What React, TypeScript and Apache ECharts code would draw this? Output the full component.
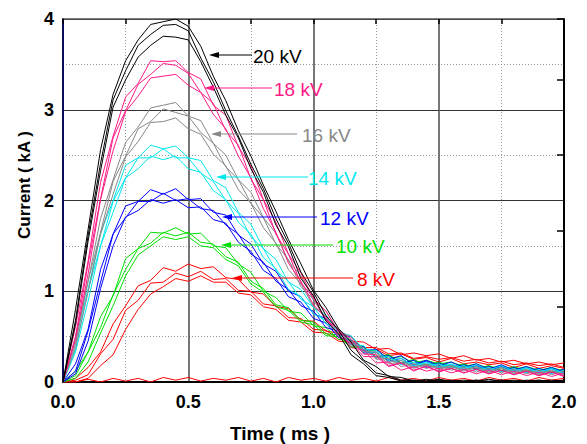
import React, { useEffect, useRef } from "react";
import * as echarts from "echarts";

// Time axis (ms)
const TIME = [0, 0.05, 0.1, 0.15, 0.2, 0.25, 0.3, 0.35, 0.4, 0.45, 0.5, 0.55, 0.6, 0.65, 0.7, 0.75, 0.8, 0.85, 0.9, 0.95, 1.0, 1.05, 1.1, 1.15, 1.2, 1.25, 1.3, 1.35, 1.4, 1.45, 1.5, 1.55, 1.6, 1.65, 1.7, 1.75, 1.8, 1.85, 1.9, 1.95, 2.0];

const X_TICKS = ["0.0", "0.5", "1.0", "1.5", "2.0"];
const Y_TICKS = ["0", "1", "2", "3", "4"];

// 8 kV (red)
const KV8_A = [0, 0.04, 0.16, 0.33, 0.64, 0.84, 1.06, 1.12, 1.26, 1.22, 1.3, 1.25, 1.27, 1.15, 1.13, 0.99, 0.97, 0.83, 0.81, 0.68, 0.67, 0.56, 0.54, 0.45, 0.44, 0.36, 0.37, 0.3, 0.32, 0.29, 0.31, 0.26, 0.29, 0.24, 0.26, 0.22, 0.24, 0.2, 0.22, 0.19, 0.21];
const KV8_B = [0, 0.02, 0.08, 0.31, 0.47, 0.79, 0.9, 1.09, 1.1, 1.2, 1.16, 1.22, 1.13, 1.14, 1.01, 1.0, 0.86, 0.84, 0.71, 0.7, 0.58, 0.57, 0.47, 0.46, 0.38, 0.38, 0.31, 0.32, 0.26, 0.28, 0.25, 0.27, 0.23, 0.25, 0.21, 0.23, 0.19, 0.21, 0.18, 0.2, 0.16];
const KV8_C = [0, 0.0, 0.04, 0.18, 0.3, 0.58, 0.8, 0.97, 1.05, 1.14, 1.11, 1.17, 1.1, 1.1, 0.98, 0.96, 0.83, 0.8, 0.68, 0.66, 0.55, 0.54, 0.45, 0.44, 0.36, 0.36, 0.29, 0.31, 0.25, 0.27, 0.22, 0.26, 0.2, 0.22, 0.19, 0.21, 0.16, 0.2, 0.15, 0.18, 0.15];
const KV8_FLAT = [0, 0.0, 0.03, 0.0, 0.04, 0.01, 0.04, 0.0, 0.05, 0.02, 0.05, 0.01, 0.04, 0.02, 0.05, 0.01, 0.04, 0.0, 0.05, 0.02, 0.04, 0.01, 0.05, 0.02, 0.04, 0.01, 0.05, 0.02, 0.04, 0.01, 0.05, 0.02, 0.04, 0.01, 0.05, 0.02, 0.04, 0.01, 0.05, 0.02, 0.04];

// 10 kV (green)
const KV10_A = [0, 0.12, 0.33, 0.72, 0.95, 1.36, 1.47, 1.65, 1.64, 1.7, 1.63, 1.64, 1.5, 1.48, 1.3, 1.21, 1.0, 0.93, 0.78, 0.76, 0.62, 0.6, 0.47, 0.46, 0.34, 0.35, 0.26, 0.28, 0.21, 0.24, 0.2, 0.22, 0.17, 0.2, 0.15, 0.18, 0.14, 0.17, 0.13, 0.16, 0.12];
const KV10_B = [0, 0.07, 0.33, 0.6, 0.96, 1.24, 1.47, 1.53, 1.65, 1.61, 1.65, 1.54, 1.52, 1.38, 1.32, 1.11, 1.03, 0.85, 0.82, 0.68, 0.66, 0.53, 0.52, 0.39, 0.39, 0.28, 0.3, 0.21, 0.25, 0.18, 0.22, 0.17, 0.2, 0.15, 0.18, 0.13, 0.17, 0.12, 0.15, 0.11, 0.14];
const KV10_C = [0, 0.04, 0.22, 0.54, 0.84, 1.17, 1.4, 1.5, 1.6, 1.57, 1.6, 1.5, 1.48, 1.35, 1.28, 1.08, 0.99, 0.83, 0.79, 0.66, 0.63, 0.51, 0.5, 0.38, 0.38, 0.27, 0.3, 0.21, 0.24, 0.19, 0.21, 0.15, 0.19, 0.14, 0.18, 0.12, 0.16, 0.11, 0.15, 0.1, 0.14];

// 12 kV (blue)
const KV12_A = [0, 0.2, 0.58, 1.24, 1.63, 1.94, 1.99, 2.12, 2.07, 2.13, 2.01, 2.02, 1.87, 1.84, 1.62, 1.52, 1.3, 1.22, 1.0, 0.94, 0.75, 0.7, 0.52, 0.5, 0.35, 0.36, 0.25, 0.29, 0.19, 0.24, 0.18, 0.22, 0.16, 0.2, 0.14, 0.19, 0.13, 0.17, 0.12, 0.16, 0.11];
const KV12_B = [0, 0.12, 0.56, 1.1, 1.63, 1.81, 1.99, 1.99, 2.08, 2.0, 2.02, 1.91, 1.89, 1.73, 1.63, 1.41, 1.32, 1.11, 1.02, 0.84, 0.78, 0.6, 0.56, 0.41, 0.39, 0.27, 0.29, 0.2, 0.24, 0.16, 0.21, 0.15, 0.19, 0.14, 0.17, 0.12, 0.16, 0.11, 0.15, 0.1, 0.14];
const KV12_C = [0, 0.09, 0.45, 1.03, 1.5, 1.82, 1.89, 2.01, 1.97, 2.01, 1.92, 1.93, 1.79, 1.75, 1.54, 1.44, 1.23, 1.14, 0.94, 0.88, 0.7, 0.65, 0.49, 0.46, 0.32, 0.33, 0.23, 0.26, 0.18, 0.23, 0.16, 0.19, 0.14, 0.18, 0.13, 0.17, 0.12, 0.16, 0.1, 0.15, 0.1];

// 14 kV (cyan)
const KV14_A = [0, 0.46, 1.02, 1.64, 2.0, 2.39, 2.47, 2.61, 2.57, 2.6, 2.47, 2.44, 2.22, 2.14, 1.87, 1.74, 1.47, 1.35, 1.1, 1.02, 0.82, 0.74, 0.55, 0.51, 0.36, 0.35, 0.24, 0.26, 0.18, 0.22, 0.17, 0.2, 0.15, 0.19, 0.13, 0.18, 0.12, 0.16, 0.11, 0.15, 0.1];
const KV14_B = [0, 0.36, 1.01, 1.5, 1.99, 2.25, 2.47, 2.47, 2.57, 2.47, 2.47, 2.3, 2.21, 2.0, 1.86, 1.6, 1.47, 1.23, 1.11, 0.91, 0.83, 0.64, 0.58, 0.42, 0.4, 0.27, 0.28, 0.19, 0.22, 0.17, 0.2, 0.15, 0.18, 0.13, 0.16, 0.11, 0.15, 0.1, 0.14, 0.09, 0.13];
const KV14_C = [0, 0.33, 0.89, 1.5, 1.87, 2.25, 2.35, 2.49, 2.45, 2.49, 2.35, 2.31, 2.11, 2.01, 1.76, 1.63, 1.37, 1.25, 1.02, 0.94, 0.75, 0.68, 0.51, 0.47, 0.33, 0.33, 0.22, 0.24, 0.17, 0.21, 0.16, 0.19, 0.14, 0.17, 0.12, 0.16, 0.11, 0.15, 0.1, 0.14, 0.09];

// 16 kV (gray)
const KV16_A = [0, 0.5, 1.11, 1.8, 2.23, 2.64, 2.81, 3.02, 3.05, 3.08, 2.93, 2.88, 2.63, 2.5, 2.23, 2.09, 1.81, 1.64, 1.33, 1.17, 0.9, 0.78, 0.56, 0.5, 0.34, 0.33, 0.22, 0.24, 0.16, 0.2, 0.15, 0.18, 0.13, 0.17, 0.11, 0.16, 0.1, 0.14, 0.09, 0.13, 0.08];
const KV16_B = [0, 0.42, 1.11, 1.65, 2.21, 2.49, 2.79, 2.87, 3.01, 2.97, 2.93, 2.75, 2.63, 2.37, 2.23, 1.97, 1.81, 1.52, 1.35, 1.05, 0.91, 0.68, 0.59, 0.41, 0.38, 0.25, 0.26, 0.17, 0.2, 0.15, 0.18, 0.13, 0.16, 0.11, 0.15, 0.1, 0.14, 0.09, 0.13, 0.08, 0.12];
const KV16_C = [0, 0.38, 0.99, 1.63, 2.07, 2.48, 2.65, 2.86, 2.87, 2.91, 2.79, 2.73, 2.51, 2.38, 2.12, 1.97, 1.7, 1.53, 1.24, 1.08, 0.83, 0.72, 0.52, 0.46, 0.31, 0.31, 0.2, 0.22, 0.15, 0.19, 0.14, 0.17, 0.12, 0.16, 0.1, 0.15, 0.09, 0.13, 0.08, 0.12, 0.07];

// 18 kV (pink)
const KV18_A = [0, 0.61, 1.33, 2.2, 2.71, 3.14, 3.29, 3.54, 3.53, 3.54, 3.41, 3.34, 3.05, 2.94, 2.59, 2.38, 2.01, 1.76, 1.41, 1.2, 0.92, 0.78, 0.55, 0.48, 0.31, 0.3, 0.18, 0.21, 0.13, 0.17, 0.12, 0.15, 0.1, 0.14, 0.09, 0.13, 0.08, 0.12, 0.07, 0.11, 0.07];
const KV18_B = [0, 0.5, 1.3, 2.02, 2.69, 2.99, 3.28, 3.39, 3.51, 3.49, 3.4, 3.19, 3.07, 2.77, 2.61, 2.24, 2.01, 1.63, 1.41, 1.09, 0.93, 0.68, 0.58, 0.38, 0.35, 0.21, 0.22, 0.13, 0.17, 0.12, 0.15, 0.1, 0.14, 0.09, 0.13, 0.08, 0.12, 0.07, 0.11, 0.06, 0.1];
const KV18_C = [0, 0.47, 1.19, 2.01, 2.55, 2.98, 3.15, 3.35, 3.37, 3.39, 3.27, 3.19, 2.95, 2.79, 2.49, 2.25, 1.91, 1.65, 1.31, 1.11, 0.85, 0.71, 0.5, 0.43, 0.28, 0.28, 0.17, 0.21, 0.12, 0.18, 0.11, 0.15, 0.1, 0.14, 0.09, 0.13, 0.08, 0.12, 0.07, 0.11, 0.06];

// 20 kV (black)
const KV20_A = [0, 0.8, 1.68, 2.56, 3.17, 3.54, 3.77, 3.94, 3.97, 4.0, 3.92, 3.7, 3.37, 3.1, 2.77, 2.49, 2.17, 1.88, 1.57, 1.3, 1.01, 0.82, 0.59, 0.44, 0.24, 0.17, 0.06, 0.05, 0.01, 0.03, 0.01, 0.02, 0.0, 0.02, 0.01, 0.02, 0.0, 0.02, 0.01, 0.02, 0.01];
const KV20_B = [0, 0.68, 1.61, 2.41, 3.11, 3.43, 3.71, 3.83, 3.93, 3.94, 3.87, 3.57, 3.31, 2.99, 2.71, 2.4, 2.13, 1.8, 1.53, 1.21, 0.99, 0.73, 0.57, 0.35, 0.23, 0.1, 0.07, 0.02, 0.02, 0.01, 0.02, 0.01, 0.01, 0.02, 0.0, 0.02, 0.01, 0.01, 0.02, 0.0, 0.01];
const KV20_C = [0, 0.64, 1.55, 2.33, 3.03, 3.33, 3.58, 3.71, 3.81, 3.8, 3.77, 3.53, 3.25, 2.94, 2.69, 2.35, 2.09, 1.73, 1.49, 1.14, 0.95, 0.67, 0.53, 0.3, 0.2, 0.07, 0.05, 0.01, 0.02, 0.01, 0.03, 0.01, 0.02, 0.01, 0.03, 0.01, 0.02, 0.01, 0.02, 0.01, 0.02];

const GROUP_LABELS = ["8 kV", "10 kV", "12 kV", "14 kV", "16 kV", "18 kV", "20 kV"];
const GROUP_COLORS = ["#ff0000", "#00e000", "#0000ff", "#00e8ee", "#888888", "#ff1a85", "#000000"];
const GROUP_TRACES = [
  [KV8_FLAT, KV8_A, KV8_B, KV8_C],
  [KV10_A, KV10_B, KV10_C],
  [KV12_A, KV12_B, KV12_C],
  [KV14_A, KV14_B, KV14_C],
  [KV16_A, KV16_B, KV16_C],
  [KV18_A, KV18_B, KV18_C],
  [KV20_A, KV20_B, KV20_C],
];

// annotation layout (pixels): text left x, y, arrow tip x, line end x
const ANNOT = [
  { tx: 357, y: 278, ax: 232, lx: 353 },
  { tx: 336, y: 245, ax: 221, lx: 333 },
  { tx: 320, y: 217, ax: 222, lx: 317 },
  { tx: 308, y: 177, ax: 216, lx: 308 },
  { tx: 302, y: 134, ax: 211, lx: 297 },
  { tx: 274, y: 88, ax: 204, lx: 272 },
  { tx: 253, y: 55, ax: 209, lx: 252 },
];

const FONT = "'Liberation Sans', Arial, Helvetica, sans-serif";

export default function App() {
  const ref = useRef<HTMLDivElement>(null);
  useEffect(() => {
    if (!ref.current) return;
    const chart = echarts.init(ref.current, null, { renderer: "svg" });
    const series: any[] = [];
    GROUP_TRACES.forEach((traces, g) => {
      traces.forEach((arr, k) => {
        series.push({
          type: "line",
          name: GROUP_LABELS[g] + " #" + (k + 1),
          data: TIME.map((t, i) => [t, arr[i]]),
          showSymbol: false,
          symbol: "none",
          xAxisIndex: 0,
          yAxisIndex: 0,
          lineStyle: { color: GROUP_COLORS[g], width: 1 },
          itemStyle: { color: GROUP_COLORS[g] },
          silent: true,
          z: 3,
        });
      });
    });

    const graphic: any[] = [];
    ANNOT.forEach((a, g) => {
      const c = GROUP_COLORS[g];
      graphic.push({
        type: "line",
        shape: { x1: a.ax + 6, y1: a.y, x2: a.lx, y2: a.y },
        style: { stroke: c, lineWidth: 1.2 },
        z: 10,
      });
      graphic.push({
        type: "polygon",
        shape: { points: [[a.ax, a.y], [a.ax + 10, a.y - 3], [a.ax + 10, a.y + 3]] },
        style: { fill: c },
        z: 10,
      });
      graphic.push({
        type: "text",
        x: a.tx,
        y: a.y + 1,
        style: {
          text: GROUP_LABELS[g],
          fill: c,
          font: "19px " + FONT,
          verticalAlign: "middle",
        },
        z: 10,
      });
    });
    graphic.push({
      type: "text",
      x: 280,
      y: 433,
      style: {
        text: "Time ( ms )",
        fill: "#000",
        font: "bold 19px " + FONT,
        align: "center",
        verticalAlign: "middle",
      },
    });
    graphic.push({
      type: "text",
      x: 24,
      y: 185,
      rotation: Math.PI / 2,
      style: {
        text: "Current ( kA )",
        fill: "#000",
        font: "bold 17px " + FONT,
        align: "center",
        verticalAlign: "middle",
      },
    });

    chart.setOption({
      animation: false,
      backgroundColor: "#ffffff",
      grid: { left: 63, right: 23, top: 19, bottom: 62, containLabel: false },
      xAxis: [
        {
          type: "value",
          min: 0,
          max: 2,
          interval: 0.5,
          axisLine: { show: true, onZero: false, lineStyle: { color: "#000", width: 2 } },
          axisTick: { show: false },
          axisLabel: {
            color: "#000",
            fontFamily: FONT,
            fontWeight: "bold",
            fontSize: 18,
            margin: 11,
            formatter: (v: number) => X_TICKS[Math.round(v / 0.5)] ?? "",
          },
          splitLine: { show: true, lineStyle: { color: "#555", width: 1.6 } },
          minorTick: { show: false, splitNumber: 2 },
          minorSplitLine: { show: true, lineStyle: { color: "#999", type: [1, 2], width: 1 } },
        },
        {
          type: "value",
          position: "top",
          min: 0,
          max: 2,
          interval: 0.25,
          axisLine: { show: true, onZero: false, lineStyle: { color: "#555", width: 1.5 } },
          axisTick: { show: true, inside: true, length: 5, lineStyle: { color: "#000", width: 1.5 } },
          axisLabel: { show: false },
          splitLine: { show: false },
        },
      ],
      yAxis: [
        {
          type: "value",
          min: 0,
          max: 4,
          interval: 1,
          axisLine: { show: true, onZero: false, lineStyle: { color: "#0a0a5a", width: 2 } },
          axisTick: { show: false },
          axisLabel: {
            color: "#000",
            fontFamily: FONT,
            fontWeight: "bold",
            fontSize: 18,
            margin: 9,
            formatter: (v: number) => Y_TICKS[Math.round(v)] ?? "",
          },
          splitLine: { show: true, lineStyle: { color: "#333", width: 1 } },
          minorTick: { show: false, splitNumber: 2 },
          minorSplitLine: { show: true, lineStyle: { color: "#999", type: [1, 2], width: 1 } },
        },
        {
          type: "value",
          position: "right",
          min: 0,
          max: 4.8,
          interval: 1,
          axisLine: { show: true, onZero: false, lineStyle: { color: "#000", width: 2 } },
          axisTick: { show: true, inside: true, length: 7, lineStyle: { color: "#000", width: 1.5 } },
          axisLabel: { show: false },
          splitLine: { show: false },
        },
      ],
      series,
      graphic,
    });
    return () => chart.dispose();
  }, []);
  return (
    <div
      ref={ref}
      style={{ position: "fixed", left: 0, top: 0, width: 587, height: 444, background: "#fff" }}
    />
  );
}
